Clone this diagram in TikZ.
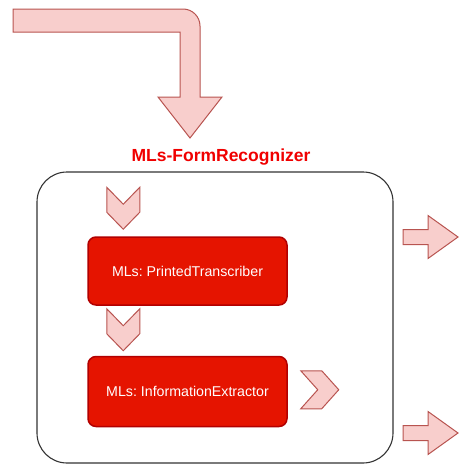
\documentclass[tikz,border=0pt]{standalone}
\usepackage{fontspec}
\setmainfont{Liberation Sans}
\frenchspacing
\usetikzlibrary{positioning}
\definecolor{mlred}{HTML}{E51400}
\definecolor{mlredline}{HTML}{B20000}
\definecolor{flowfill}{HTML}{F8CECC}
\definecolor{flowline}{HTML}{B85450}
\definecolor{titlered}{HTML}{F00000}
\tikzstyle{service} = [rectangle, rounded corners=8, minimum width=199, minimum height=68, text centered, fill=mlred, draw=mlredline, line width=1.5, text=white, font=\fontsize{14.2}{16}\selectfont]
\tikzstyle{container} = [rectangle, rounded corners=30, minimum width=356, minimum height=291, draw=black!80, line width=1.1]
\tikzstyle{flow} = [fill=flowfill, draw=flowline, line width=1]
\tikzset{
  chevdown/.pic={\draw[flow] (0,0) -- (16.5,17) -- (33,0) -- (33,25) -- (16.5,42) -- (0,25) -- cycle;},
  chevright/.pic={\draw[flow] (0,0) -- (17,19) -- (0,38) -- (21,38) -- (38,19) -- (21,0) -- cycle;},
  blockarrow/.pic={\draw[flow] (0,-7.5) -- (25,-7.5) -- (25,-21.5) -- (55,0) -- (25,21.5) -- (25,7.5) -- (0,7.5) -- cycle;}
}

\begin{document}
\begin{tikzpicture}[x=1pt, y=-1pt]
\useasboundingbox (0,0) rectangle (459,466);
% incoming arrow, bent down onto the recognizer
\draw[flow] (13,9) -- (183,9) .. controls (192.4,9) and (200,16.6) .. (200,26) -- (200,97) -- (222,97) -- (190,138) -- (158,97) -- (180,97) -- (180,32) -- (13,32) -- cycle;
\node (recognizer) [container] at (215,317.5) {};
\node (title) [text=titlered, font=\bfseries\fontsize{17.5}{20}\selectfont] at (221,157) {MLs-FormRecognizer};
\node (transcriber) [service] at (187.5,271) {MLs: PrintedTranscriber};
\node (extractor) [service, below=50pt of transcriber, minimum height=70] {MLs: InformationExtractor};
% chevrons inside the container
\pic at ([xshift=19.5pt, yshift=49pt]transcriber.north west) {chevdown};
\pic at ([xshift=19.5pt, yshift=-3pt]transcriber.south west) {chevdown};
\pic at ([xshift=13pt, yshift=-15pt]extractor.north east) {chevright};
% outputs
\pic at (403,237) {blockarrow};
\pic at (403,433) {blockarrow};
\end{tikzpicture}
\end{document}
